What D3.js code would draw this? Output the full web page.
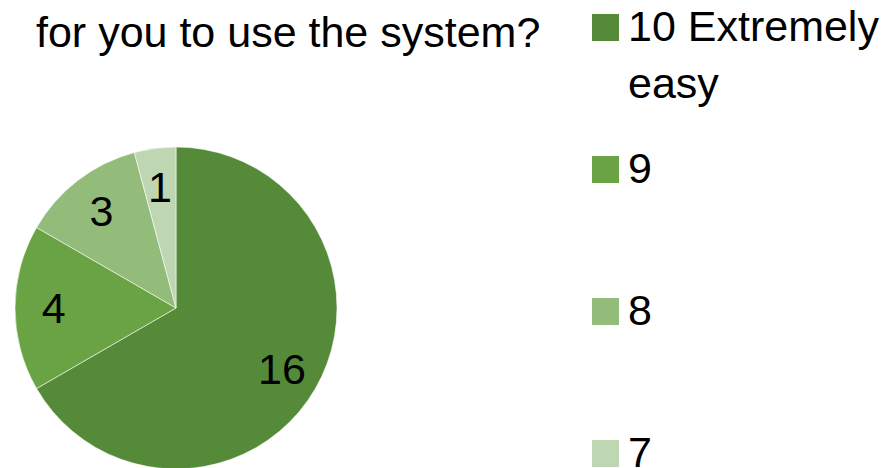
<!DOCTYPE html>
<html>
<head>
<meta charset="utf-8">
<script src="https://cdn.jsdelivr.net/npm/d3@7/dist/d3.min.js"></script>
<style>
  html, body { margin: 0; padding: 0; background: #fff; }
  svg { display: block; }
  text { font-family: "Liberation Sans", Arial, sans-serif; fill: #000; }
</style>
</head>
<body>
<svg id="chart" width="890" height="468"></svg>
<script>
// Survey answers: rating label and number of respondents
const categories = ["10 Extremely easy", "9", "8", "7"];
const legendLines = [["10 Extremely", "easy"], ["9"], ["8"], ["7"]];
const counts = [16, 4, 3, 1];
const colors = ["#558a39", "#6aa343", "#93bc7b", "#bed6b2"];
const titleText = "for you to use the system?";

const W = 890, H = 468;
const svg = d3.select("#chart");

const cx = 176, cy = 308, radius = 161;
const fontSize = 43;

// Title (second line of the question)
svg.append("text")
  .attr("x", 36)
  .attr("y", 47)
  .attr("font-size", fontSize)
  .text(titleText);

// Pie, starting at 12 o'clock and running clockwise
const pie = d3.pie().sort(null).value(d => d);
const arcs = pie(counts);
const arc = d3.arc().innerRadius(0).outerRadius(radius);
const labelArc = d3.arc().innerRadius(radius * 0.76).outerRadius(radius * 0.76);

const g = svg.append("g").attr("transform", `translate(${cx},${cy})`);

g.selectAll("path.slice")
  .data(arcs)
  .join("path")
  .attr("class", "slice")
  .attr("d", arc)
  .attr("fill", (d, i) => colors[i])
  .attr("stroke", "rgba(255,255,255,0.55)")
  .attr("stroke-width", 1);

g.selectAll("text.value")
  .data(arcs)
  .join("text")
  .attr("class", "value")
  .attr("transform", d => `translate(${labelArc.centroid(d)})`)
  .attr("text-anchor", "middle")
  .attr("dy", "0.35em")
  .attr("font-size", fontSize)
  .text(d => d.data);

// Legend
const legendY = d3.scaleLinear().domain([0, 1]).range([41, 183]);
const legend = svg.append("g");
const items = legend.selectAll("g.item")
  .data(categories)
  .join("g")
  .attr("class", "item")
  .attr("transform", (d, i) => `translate(592,${legendY(i)})`);

items.append("rect")
  .attr("x", 0)
  .attr("y", -27)
  .attr("width", 27)
  .attr("height", 27)
  .attr("fill", (d, i) => colors[i]);

items.each(function (d, i) {
  const t = d3.select(this).append("text")
    .attr("x", 36)
    .attr("y", 0)
    .attr("font-size", fontSize);
  legendLines[i].forEach((line, k) => {
    t.append("tspan")
      .attr("x", 36)
      .attr("dy", k === 0 ? 0 : 57)
      .text(line);
  });
});
</script>
</body>
</html>
